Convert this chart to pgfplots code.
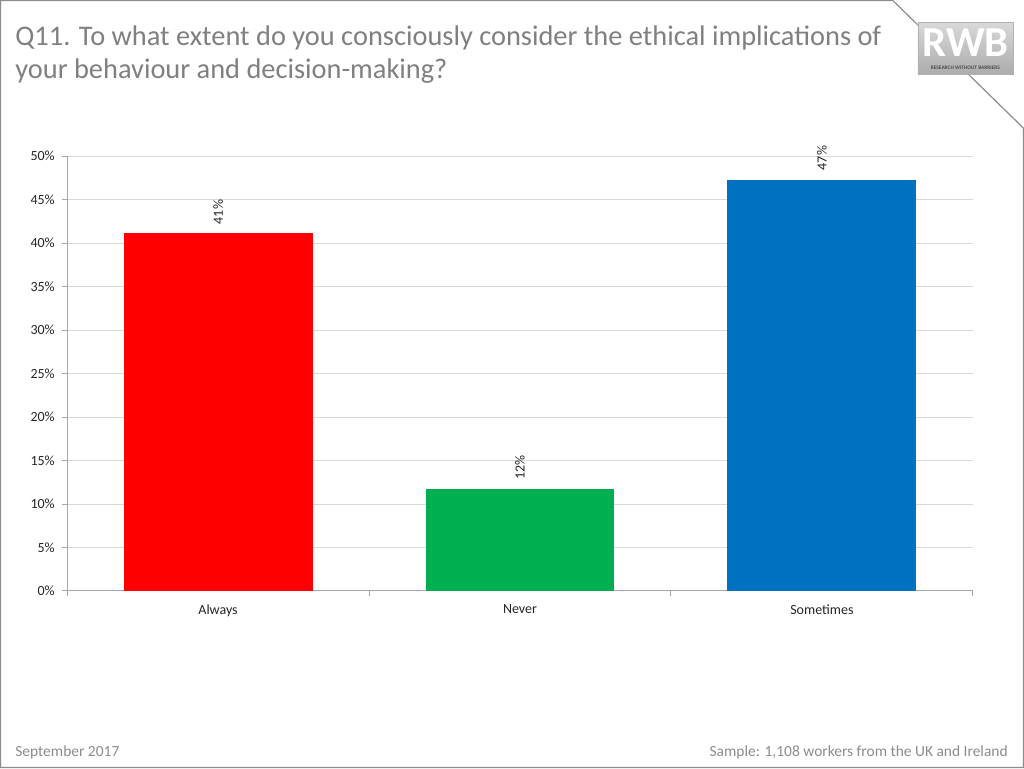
\documentclass[border=0pt]{standalone}
\usepackage{pgfplots}
\pgfplotsset{compat=1.18}
\usepackage{fontspec}
\setmainfont{Carlito}
\definecolor{cRed}{HTML}{FF0000}
\definecolor{cGreen}{HTML}{00B050}
\definecolor{cBlue}{HTML}{0070C0}
\definecolor{titlegray}{HTML}{808080}
\definecolor{framegray}{HTML}{8C8C8C}
\definecolor{gridgray}{HTML}{D9D9D9}
\definecolor{axisgray}{HTML}{A6A6A6}
\begin{document}
\begin{tikzpicture}[x=0.75pt,y=0.75pt]
% page
\path[fill=white] (0,0) rectangle (1024,768);
\draw[framegray,line width=0.9pt] (0.5,767.5) -- (893,767.5) -- (1023.5,640) -- (1023.5,0.5) -- (0.5,0.5) -- cycle;
% logo
\shade[top color=gray!30,bottom color=gray!65,draw=gray!60] (918,746) rectangle (1013,694);
\node[font=\bfseries\fontsize{32}{32}\selectfont,text=white,inner sep=0pt] at (965.5,725) {RWB};
\node[font=\bfseries\fontsize{4}{4}\selectfont,text=black!70,inner sep=0pt] at (965.5,700) {RESEARCH WITHOUT BARRIERS};
% title
\node[anchor=base west,inner sep=0pt,text=titlegray,font=\fontsize{21.3}{23}\selectfont] at (15,723) {Q11. To what extent do you consciously consider the ethical implications of};
\node[anchor=base west,inner sep=0pt,text=titlegray,font=\fontsize{21.3}{23}\selectfont] at (15,690) {your behaviour and decision-making?};
% footer
\node[anchor=base west,inner sep=0pt,text=framegray,font=\fontsize{11.6}{13}\selectfont] at (15,11) {September 2017};
\node[anchor=base east,inner sep=0pt,text=framegray,font=\fontsize{11.6}{13}\selectfont] at (1008,11) {Sample: 1,108 workers from the UK and Ireland};
\begin{axis}[
  at={(50.25pt,132.75pt)}, anchor=south west,
  scale only axis, width=679.5pt, height=326.25pt,
  xmin=-0.5, xmax=2.5, ymin=0, ymax=50,
  axis x line*=bottom, axis y line*=left,
  axis line style={axisgray, line width=0.75pt},
  xtick={-0.5,0.5,1.5,2.5}, xticklabels={},
  extra x ticks={0,1,2},
  extra x tick labels={Always,Never,Sometimes},
  extra x tick style={major tick length=0pt, grid=none},
  ytick={0,5,...,50},
  yticklabels={0\%,5\%,10\%,15\%,20\%,25\%,30\%,35\%,40\%,45\%,50\%},
  tick align=outside, major tick length=3.75pt,
  tick style={axisgray, line width=0.75pt},
  ymajorgrids, grid style={gridgray, line width=0.75pt},
  xmajorgrids=false,
  ticklabel style={font=\fontsize{10.5}{12}\selectfont, text=black!85},
  yticklabel style={xshift=-2pt},
  xticklabel style={yshift=-6.5pt},
  /pgf/number format/assume math mode=true,
  ybar, bar width=141.75pt, bar shift=0pt,
  nodes near coords={\pgfmathprintnumber[fixed,precision=0]{\pgfplotspointmeta}\%},
  every node near coord/.append style={rotate=90, anchor=west, font=\fontsize{10.5}{12}\selectfont, text=black!85, xshift=3.5pt},
]
\addplot[draw=none, fill=cRed] coordinates {(0,41.1)};
\addplot[draw=none, fill=cGreen] coordinates {(1,11.7)};
\addplot[draw=none, fill=cBlue] coordinates {(2,47.3)};
\end{axis}
\end{tikzpicture}
\end{document}
